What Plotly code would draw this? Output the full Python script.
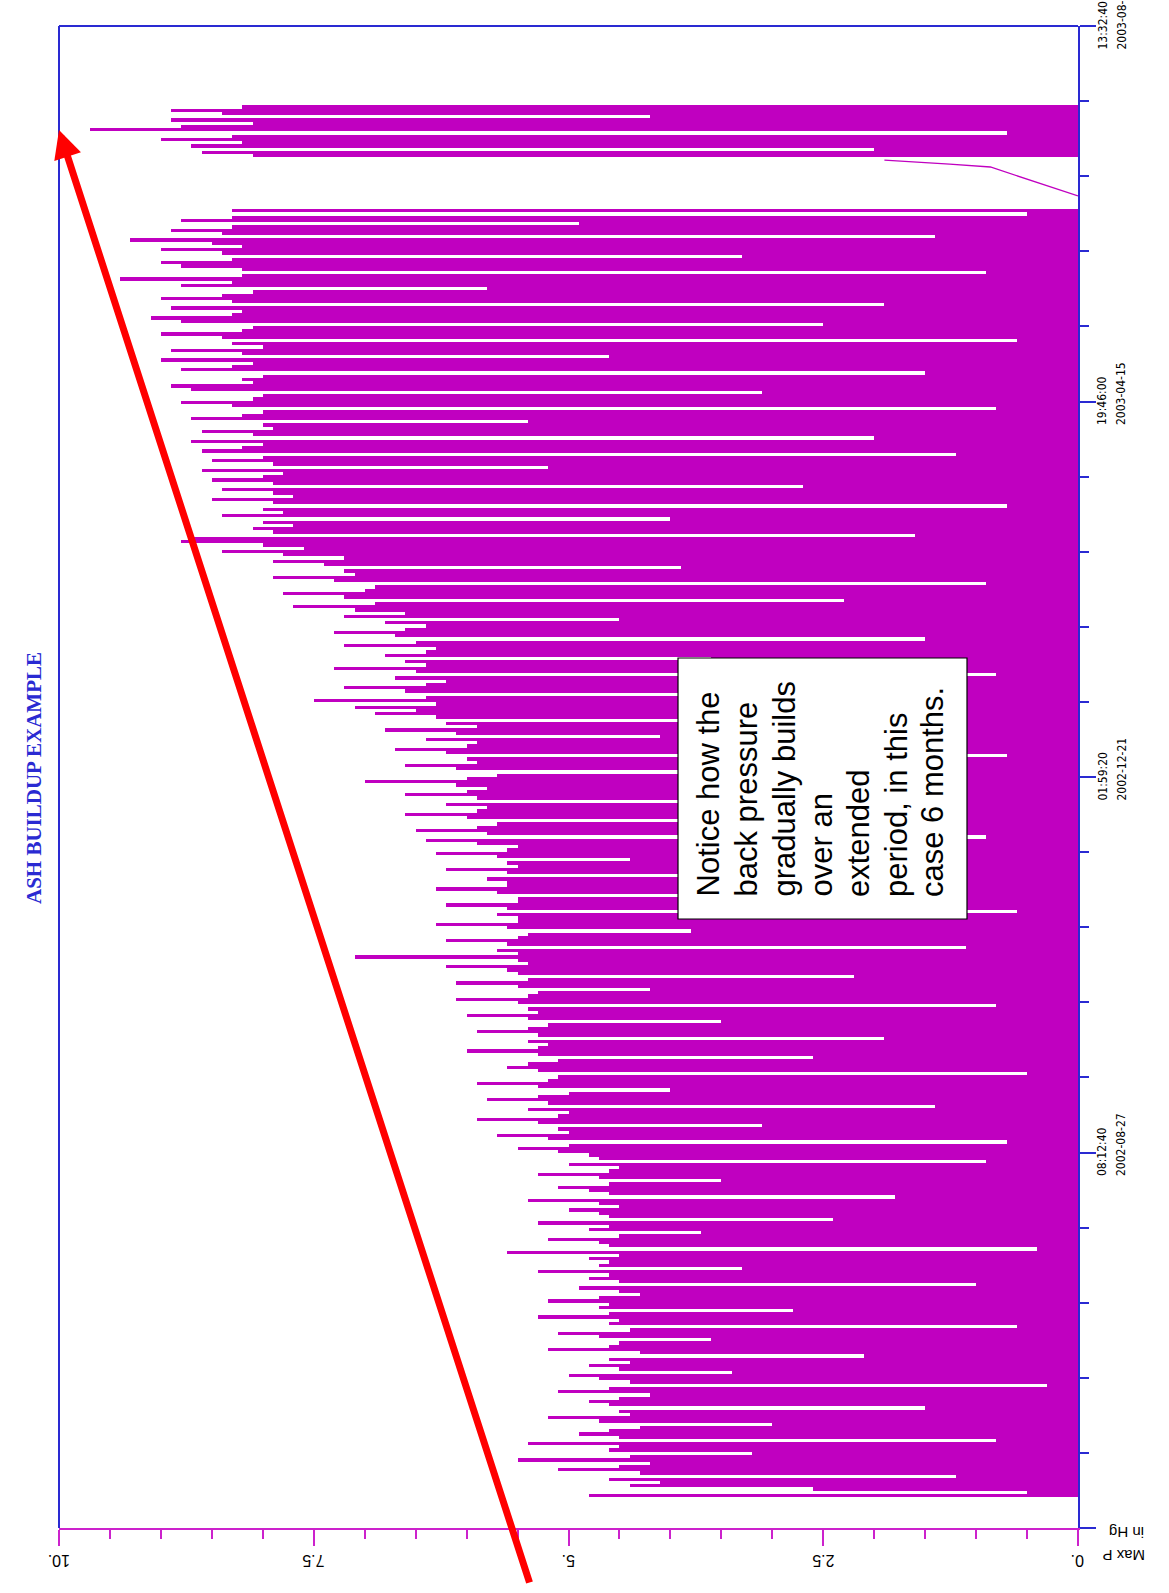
import pandas as pd
import plotly.graph_objects as go

# ---------------- data ----------------
range_start = "2002-05-03 14:26:00"
range_end = "2003-08-09 13:32:40"
major_ticks = ["2002-05-03 14:26:00", "2002-08-27 08:12:40", "2002-12-21 01:59:20",
               "2003-04-15 19:46:00", "2003-08-09 13:32:40"]
tick_times = ["", "08:12:40", "01:59:20", "19:46:00", "13:32:40"]
tick_dates = ["", "2002-08-27", "2002-12-21", "2003-04-15", "2003-08-09"]
p_ticks = [0, 2.5, 5, 7.5, 10]
p_labels = ["0.", "2.5", "5.", "7.5", "10."]

# daily Max P readings (in Hg)
may_aug_start = "2002-05-13 14:26"
may_aug = [4.8, 0.5, 2.6, 4.4, 4.1, 4.6, 1.2, 4.3, 5.1, 4.5,
           4.2, 5.5, 4.4, 3.2, 4.6, 4.5, 5.4, 0.8, 4.5, 4.9,
           4.6, 4.3, 3.0, 4.7, 5.2, 4.4, 4.5, 1.5, 4.6, 4.8,
           4.5, 4.2, 5.1, 4.6, 0.3, 4.4, 4.7, 5.0, 3.4, 4.5,
           4.8, 4.4, 4.6, 2.1, 4.3, 5.2, 4.6, 4.5, 3.6, 4.7,
           5.1, 4.4, 0.6, 4.6, 4.5, 5.3, 4.6, 2.8, 4.7, 4.6,
           5.2, 4.7, 4.3, 4.5, 4.9, 1.0, 4.5, 4.8, 4.6, 5.3,
           3.3, 4.7, 4.6, 4.8, 4.5, 5.6, 0.4, 4.6, 4.7, 5.2,
           4.5, 3.7, 4.8, 4.6, 5.3, 2.4, 4.6, 4.7, 5.0, 4.5,
           4.7, 5.4, 1.8, 4.6, 4.8, 5.1, 4.6, 3.5, 4.7, 5.3,
           4.6, 4.5, 5.0, 0.9, 4.7, 4.8, 5.1]
aug_nov_start = "2002-08-28 14:26"
aug_nov = [5.5, 5.0, 0.7, 5.2, 5.7, 5.0, 5.1, 3.1, 5.3, 5.9,
           5.1, 5.0, 5.4, 1.4, 5.2, 5.8, 5.3, 5.0, 4.0, 5.3,
           5.9, 5.2, 5.1, 0.5, 5.3, 5.6, 5.4, 5.1, 2.6, 5.3,
           6.0, 5.3, 5.2, 5.4, 1.9, 5.3, 5.9, 5.4, 5.2, 3.5,
           5.4, 6.0, 5.3, 5.4, 0.8, 5.5, 6.1, 5.4, 5.3, 4.2,
           5.5, 6.1, 5.4, 2.2, 5.5, 5.6, 6.2, 5.4, 5.5, 7.1,
           5.5, 5.7, 1.1, 5.6, 6.2, 5.5, 5.4, 3.8, 5.6, 6.3,
           5.5, 5.5, 5.7, 0.6, 5.6, 6.2, 5.5, 5.5, 2.9, 5.7,
           6.3, 5.6, 5.6, 5.8, 1.6, 5.6, 6.2, 5.5, 5.6, 4.4,
           5.7, 6.3, 5.6, 5.5]
dec_jan_start = "2002-11-30 14:26"
dec_jan = [5.9, 6.4, 0.9, 5.8, 6.5, 5.9, 5.7, 3.3, 6.0, 6.6,
           5.9, 5.8, 6.2, 1.7, 5.9, 6.6, 6.0, 5.8, 6.1, 7.0,
           6.0, 5.7, 2.4, 6.1, 6.6, 5.9, 6.0, 0.7, 6.2, 6.7,
           6.0, 5.9, 6.4, 4.1, 6.1, 6.8, 5.9, 6.2, 1.3, 6.3,
           6.9]
jan_feb_start = "2003-01-10 14:26"
jan_feb = [6.5, 7.1, 6.3, 7.5, 6.4, 2.0, 6.6, 7.2, 6.4, 6.2,
           6.7, 0.8, 6.5, 7.3, 6.4, 6.6, 3.6, 6.8, 6.4, 6.3,
           7.2, 6.5, 1.5, 6.7, 7.3, 6.6, 6.4, 6.8, 4.5, 7.2,
           6.6]
feb_start = "2003-02-10 14:26"
feb = [7.1, 7.7, 6.9, 2.3, 7.2, 7.8, 7.0, 6.9, 0.9, 7.3,
       7.9, 7.1, 7.2, 3.9, 7.4, 7.9, 7.2]
mar_start = "2003-02-27 14:26"
mar = [7.8, 8.4, 7.6, 8.0, 8.8, 8.7, 1.6, 7.9, 8.1, 7.7,
       8.0, 4.0, 8.4, 7.8, 8.0, 0.7, 7.9, 8.5, 7.7, 7.9,
       8.4, 2.7, 7.9, 8.5, 8.0, 7.8, 8.6, 5.2, 7.9, 8.5,
       8.0, 1.2, 8.6]
apr_jun_start = "2003-04-01 14:26"
apr_jun = [8.2, 8.0, 8.7, 2.0, 8.1, 8.6, 7.9, 8.0, 5.4, 8.7,
           8.2, 8.0, 0.8, 8.3, 8.8, 8.1, 8.0, 3.1, 8.7, 8.9,
           8.1, 8.2, 8.0, 1.5, 8.8, 8.3, 8.1, 9.0, 4.6, 8.2,
           8.9, 8.0, 8.3, 0.6, 8.4, 9.0, 8.2, 8.1, 2.5, 8.8,
           9.1, 8.3, 8.2, 8.9, 1.9, 8.3, 9.0, 8.4, 8.1, 5.8,
           8.8, 8.3, 9.4, 8.2, 0.9, 8.2, 8.8, 9.0, 8.3, 3.3,
           8.4, 9.0, 8.2, 8.5, 9.3, 1.4, 8.4, 8.9, 8.3, 4.9,
           8.8, 8.3, 0.5, 8.3]
gap_times = ["2003-06-18 05:00", "2003-06-27 02:30", "2003-06-28 00:00",
             "2003-06-29 05:00"]
gap_values = [0.0, 0.86, 1.26, 1.9]
jul_start = "2003-06-30 14:26"
jul = [8.1, 8.6, 2.0, 8.7, 8.2, 9.0, 8.3, 0.7, 9.7, 8.8,
       8.1, 8.9, 4.2, 8.4, 8.9, 8.2]

title_text = "ASH BUILDUP EXAMPLE"
note_lines = ["Notice how the", "back pressure", "gradually builds", "over an",
              "extended", "period, in this", "case 6 months."]

# ---------------- figure ----------------
W, H = 1169, 1593
L, R, T, B = 59, 1078, 26, 1528
MAG = "#c000c0"
BLUE = "#2a2ad2"


def px_x(p):
    return (p - L) / (R - L)


def px_y(p):
    return (B - p) / (B - T)


periods = [(may_aug_start, may_aug), (aug_nov_start, aug_nov), (dec_jan_start, dec_jan),
           (jan_feb_start, jan_feb), (feb_start, feb), (mar_start, mar),
           (apr_jun_start, apr_jun), (jul_start, jul)]
all_t, all_v = [], []
for start, vals in periods:
    all_t += list(pd.date_range(start, periods=len(vals), freq="D"))
    all_v += vals

fig = go.Figure()
fig.add_trace(go.Bar(x=all_v, y=all_t, orientation="h", width=86400000 * 1.02,
                     marker=dict(color=MAG, line=dict(width=0)), showlegend=False,
                     hoverinfo="skip"))
fig.add_trace(go.Scatter(x=gap_values, y=pd.to_datetime(gap_times), mode="lines",
                         line=dict(color=MAG, width=1.3), showlegend=False,
                         hoverinfo="skip"))

annotations = []
annotations.append(dict(text="<b>" + title_text + "</b>", x=px_x(34), y=px_y(778),
                        xref="paper", yref="paper",
                        textangle=-90, showarrow=False, xanchor="center", yanchor="middle",
                        font=dict(family="Liberation Serif", size=21, color=BLUE)))
for tv, tt, td in zip(major_ticks, tick_times, tick_dates):
    if not tt:
        continue
    for txt, xp in ((tt, 1102), (td, 1121)):
        annotations.append(dict(text=txt, x=px_x(xp), y=tv, xref="paper", yref="y",
                                textangle=-90, showarrow=False, xanchor="center",
                                yanchor="bottom", yshift=-26,
                                font=dict(family="DejaVu Sans Condensed", size=12,
                                          color="black")))
for pv, pl in zip(p_ticks, p_labels):
    annotations.append(dict(text=pl, x=pv, y=px_y(1561), xref="x", yref="paper",
                            textangle=180, showarrow=False, xanchor="center",
                            yanchor="middle",
                            font=dict(family="Liberation Sans", size=16, color="black")))
annotations.append(dict(text="Max P", x=px_x(1147), y=px_y(1556), xref="paper", yref="paper",
                        textangle=180, showarrow=False, xanchor="right", yanchor="middle",
                        font=dict(family="Liberation Sans", size=15, color="black")))
annotations.append(dict(text="in Hg", x=px_x(1146), y=px_y(1533), xref="paper", yref="paper",
                        textangle=180, showarrow=False, xanchor="right", yanchor="middle",
                        font=dict(family="Liberation Sans", size=15, color="black")))
line_x = [708, 746, 784, 821, 858, 896, 932]
for txt, xp in zip(note_lines, line_x):
    annotations.append(dict(text=txt, x=px_x(xp), y=px_y(899), xref="paper", yref="paper",
                            textangle=-90, showarrow=False, xanchor="center", yanchor="bottom",
                            font=dict(family="Liberation Sans", size=31, color="black")))
annotations.append(dict(text="", x=0, y=px_y(130), xref="paper", yref="paper",
                        ax=530 - 59, ay=1584 - 130, axref="pixel", ayref="pixel",
                        showarrow=True, arrowhead=2, arrowsize=0.8, arrowwidth=7,
                        arrowcolor="#ff0000", standoff=0))

shapes = [
    dict(type="line", xref="paper", yref="paper", x0=0, x1=0, y0=0, y1=1,
         line=dict(color=BLUE, width=2)),
    dict(type="line", xref="paper", yref="paper", x0=0, x1=1, y0=1, y1=1,
         line=dict(color=BLUE, width=2)),
    dict(type="rect", xref="paper", yref="paper", x0=px_x(678), x1=px_x(967),
         y0=px_y(919), y1=px_y(658), fillcolor="white", line=dict(color="black", width=1.2)),
]

fig.update_layout(
    width=W, height=H, margin=dict(l=L, r=W - R, t=T, b=H - B, pad=0),
    paper_bgcolor="white", plot_bgcolor="white", bargap=0, showlegend=False,
    annotations=annotations, shapes=shapes,
    xaxis=dict(range=[10, 0], tickmode="array", tickvals=p_ticks, showticklabels=False,
               ticks="outside", ticklen=16, tickwidth=2, tickcolor="#cc22cc",
               showline=True, linecolor="#cc22cc", linewidth=2, showgrid=False, zeroline=False,
               minor=dict(tick0=0, dtick=0.5, ticks="outside", ticklen=9, tickwidth=2,
                          tickcolor="#cc22cc", showgrid=False)),
    yaxis=dict(type="date", range=[range_start, range_end], side="right",
               tickmode="array", tickvals=major_ticks, showticklabels=False,
               ticks="outside", ticklen=16, tickwidth=2, tickcolor=BLUE,
               showline=True, linecolor=BLUE, linewidth=2, showgrid=False, zeroline=False,
               minor=dict(tick0=range_start, dtick=2000000000, ticks="outside", ticklen=9,
                          tickwidth=2, tickcolor=BLUE, showgrid=False)),
)

fig.write_html("out.html", config={"displayModeBar": False},
               post_script="document.body.style.margin='0px';")
